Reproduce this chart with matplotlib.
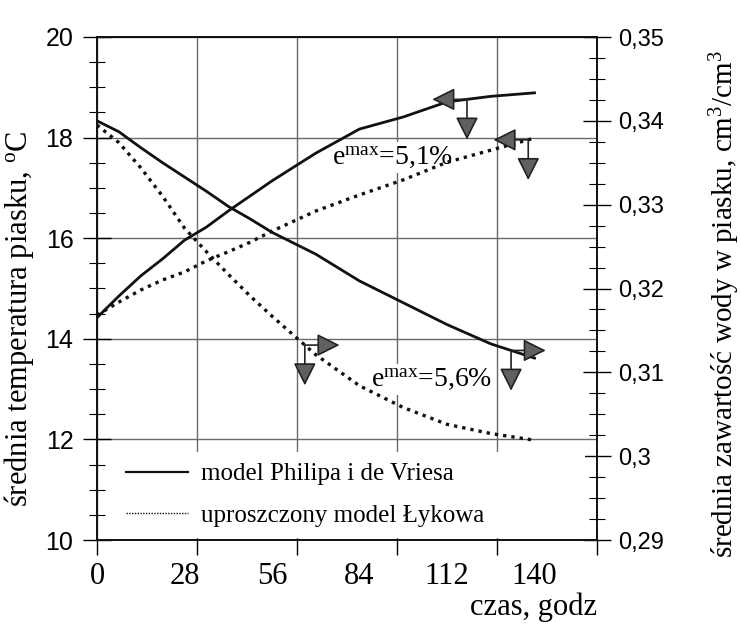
import numpy as np
import matplotlib
matplotlib.use("Agg")
import matplotlib.pyplot as plt
from matplotlib.transforms import offset_copy

# values
hours = [0, 7, 14, 21, 28, 35, 42, 49, 56, 70, 84, 98, 112, 126, 140]
temp_philip = [14.42, 14.85, 15.25, 15.59, 15.96, 16.22, 16.54, 16.84, 17.14,
               17.69, 18.17, 18.41, 18.71, 18.82, 18.89]
temp_lykow = [14.47, 14.73, 14.97, 15.17, 15.33, 15.55, 15.73, 15.92, 16.14,
              16.54, 16.86, 17.16, 17.51, 17.75, 17.99]
water_philip = [0.3400, 0.3387, 0.3368, 0.3350, 0.3333, 0.3316, 0.3298, 0.3283,
                0.3267, 0.3241, 0.3209, 0.3183, 0.3157, 0.3134, 0.3117]
water_lykow = [0.3395, 0.3374, 0.3344, 0.3310, 0.3272, 0.3244, 0.3217, 0.3191,
               0.3167, 0.3121, 0.3084, 0.3058, 0.3038, 0.3027, 0.3019]

x_labels = ["0", "28", "56", "84", "112", "140"]
x_label_pos = [0, 28, 56, 84, 112, 140]
x_grid = [0, 32, 64, 96, 128, 160]
left_ticks = [10, 12, 14, 16, 18, 20]
right_ticks = [0.29, 0.30, 0.31, 0.32, 0.33, 0.34, 0.35]
right_labels = ["0,29", "0,3", "0,31", "0,32", "0,33", "0,34", "0,35"]

plt.rcParams["mathtext.fontset"] = "custom"
plt.rcParams["mathtext.rm"] = "Liberation Serif"
plt.rcParams["mathtext.it"] = "Liberation Serif:italic"

SERIF = "Liberation Serif"
SANS = "Liberation Sans"
INK = "#111111"

fig = plt.figure(figsize=(7.41, 6.25), dpi=100)
ax = fig.add_axes([97 / 741, 85 / 625, 500 / 741, 503 / 625])
ax2 = ax.twinx()

ax.set_xlim(0, 160)
ax.set_ylim(10, 20)
ax2.set_ylim(0.29, 0.35)

ax.set_axisbelow(True)
ax.xaxis.remove_overlapping_locs = False
ax.set_xticks(x_grid)
ax.set_xticklabels([])
ax.set_xticks(x_label_pos, minor=True)
ax.set_xticklabels(x_labels, minor=True, family=SERIF, fontsize=22)
ax.tick_params(axis="x", which="major", direction="out", length=11, width=1)
ax.tick_params(axis="x", which="minor", length=0, pad=16)

ax.set_yticks(left_ticks)
ax.set_yticklabels([str(v) for v in left_ticks], family=SANS, fontsize=18)
ax.set_yticks(np.arange(10, 20.01, 0.5), minor=True)
ax.tick_params(axis="y", which="major", direction="inout", length=20, width=1, pad=7)
ax.tick_params(axis="y", which="minor", direction="inout", length=11, width=0.8)

ax2.set_yticks(right_ticks)
ax2.set_yticklabels(right_labels, family=SANS, fontsize=17)
ax2.set_yticks(np.arange(0.29, 0.35001, 0.0025), minor=True)
ax2.tick_params(axis="y", which="major", direction="inout", length=20, width=1, pad=5)
ax2.tick_params(axis="y", which="minor", direction="inout", length=11, width=0.8)

ax.grid(True, which="major", color="#6a6a6a", lw=1)
for sp in list(ax.spines.values()) + list(ax2.spines.values()):
    sp.set_linewidth(1.2)
    sp.set_color(INK)

dots = (0, (1, 1.5))
l1, = ax.plot(hours, temp_philip, color=INK, lw=2, zorder=3)
ax.plot(hours, temp_lykow, color=INK, lw=2.4, ls=dots, zorder=3)
ax2.plot(hours, water_philip, color=INK, lw=2, zorder=3)
l2, = ax2.plot(hours, water_lykow, color=INK, lw=2.4, ls=dots, zorder=3)


def axis_arrows(axes, hrs, vals, t, side):
    """L-shaped pair of arrows from a point on a curve: sideways and down."""
    y = np.interp(t, hrs, vals)
    props = dict(arrowstyle="-|>,head_length=1.0,head_width=0.5",
                 mutation_scale=14, fc="#606060", ec="#222222", lw=1.2,
                 shrinkA=0, shrinkB=0)
    sideways = offset_copy(axes.transData, fig=fig, x=25 * side, y=0, units="points")
    down = offset_copy(axes.transData, fig=fig, x=0, y=-29, units="points")
    axes.annotate("", xy=(t, y), xycoords=sideways, xytext=(t, y),
                  textcoords="data", arrowprops=props, zorder=4)
    axes.annotate("", xy=(t, y), xycoords=down, xytext=(t, y),
                  textcoords="data", arrowprops=props, zorder=4)


axis_arrows(ax, hours, temp_philip, 118.4, -1)
axis_arrows(ax, hours, temp_lykow, 138, -1)
axis_arrows(ax2, hours, water_lykow, 66.5, 1)
axis_arrows(ax2, hours, water_philip, 132.5, 1)

box = dict(fc="white", ec="none", pad=2)
ax.text(94.5, 17.6, "e$^{\\mathrm{max}}$=5,1%", family=SERIF, fontsize=20,
        ha="center", va="center", bbox=box, zorder=1)
ax.text(107, 13.2, "e$^{\\mathrm{max}}$=5,6%", family=SERIF, fontsize=20,
        ha="center", va="center", bbox=box, zorder=1)

leg = ax2.legend([l1, l2], ["model Philipa i de Vriesa", "uproszczony model Łykowa"],
                 loc="lower left", bbox_to_anchor=(0.035, 0.004, 0.94, 0.195),
                 mode="expand", frameon=True, fancybox=False, framealpha=1,
                 facecolor="white", edgecolor="none", borderaxespad=0,
                 handlelength=2.5, handletextpad=0.5, labelspacing=0.75,
                 borderpad=0.45, prop={"family": SERIF, "size": 18})
leg.get_lines()[1].set_linewidth(1.0)
leg.get_lines()[1].set_linestyle((0, (1, 1)))
leg.get_lines()[0].set_linewidth(1.6)

ax.set_xlabel("czas, godz", family=SERIF, fontsize=22, ha="right", va="top")
ax.xaxis.set_label_coords(1.0, -0.104)
ax.set_ylabel("średnia temperatura piasku, $^{\\mathrm{o}}$C", family=SERIF,
              fontsize=22)
ax.yaxis.set_label_coords(-0.122, 0.44)
ax2.set_ylabel("średnia zawartość wody w piasku, cm$^3$/cm$^3$", family=SERIF,
               fontsize=21)
ax2.yaxis.set_label_coords(1.222, 0.47)

fig.savefig("out.png", dpi=100)
